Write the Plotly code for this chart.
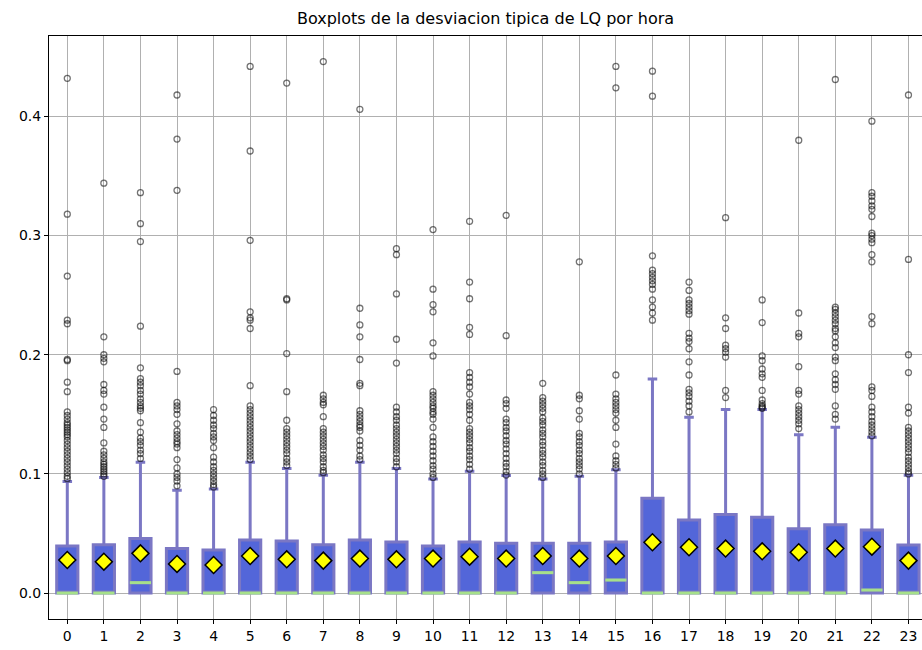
import plotly.graph_objects as go

hours = list(range(24))
tick_labels = [str(h) for h in hours]

q1 = [0.0] * 24
medians = [0.0, 0.0, 0.0087, 0.0, 0.0, 0.0, 0.0, 0.0, 0.0, 0.0, 0.0, 0.0,
           0.0, 0.0171, 0.0087, 0.0109, 0.0, 0.0, 0.0, 0.0, 0.0, 0.0, 0.0025, 0.0]
q3 = [0.0395, 0.0406, 0.0457, 0.0373, 0.0361, 0.0445, 0.0437, 0.0406,
      0.0445, 0.0429, 0.0395, 0.0429, 0.0417, 0.0417, 0.0417, 0.0429,
      0.0796, 0.0613, 0.0658, 0.0636, 0.0540, 0.0574, 0.0529, 0.0403]
upper_whisker = [0.0935, 0.0969, 0.1098, 0.0863, 0.0874, 0.1098, 0.1045, 0.0989,
                 0.1098, 0.1045, 0.0958, 0.1022, 0.0986, 0.0958, 0.0980, 0.1034,
                 0.1796, 0.1476, 0.1540, 0.1540, 0.1328, 0.1392, 0.1308, 0.0989]
means = [0.0277, 0.0263, 0.0333, 0.0244, 0.0235, 0.0311, 0.0283, 0.0272,
         0.0289, 0.0283, 0.0289, 0.0305, 0.0289, 0.0311, 0.0289, 0.0311,
         0.0426, 0.0384, 0.0373, 0.0350, 0.0342, 0.0373, 0.0389, 0.0272]

outliers = [
    [0.432, 0.318, 0.266, 0.229, 0.226, 0.196, 0.195, 0.177, 0.169, 0.152, 0.149, 0.146, 0.143, 0.141,
     0.139, 0.137, 0.135, 0.133, 0.131, 0.128, 0.125, 0.122, 0.119, 0.116, 0.113, 0.110, 0.107,
     0.104, 0.101, 0.098, 0.096],
    [0.344, 0.215, 0.200, 0.197, 0.194, 0.175, 0.170, 0.167, 0.156, 0.146, 0.139, 0.126, 0.119,
     0.116, 0.113, 0.110, 0.108, 0.106, 0.104, 0.102, 0.100, 0.098],
    [0.336, 0.310, 0.295, 0.224, 0.189, 0.180, 0.177, 0.174, 0.170, 0.167, 0.163, 0.160, 0.157,
     0.155, 0.153, 0.143, 0.135, 0.130, 0.127, 0.124, 0.120, 0.117, 0.113],
    [0.418, 0.381, 0.338, 0.186, 0.160, 0.157, 0.154, 0.150, 0.142, 0.136, 0.133, 0.130, 0.127,
     0.125, 0.122, 0.112, 0.105, 0.100, 0.097, 0.094, 0.090],
    [0.154, 0.149, 0.145, 0.141, 0.138, 0.134, 0.131, 0.128, 0.122, 0.114, 0.110, 0.106, 0.103,
     0.100, 0.097, 0.094, 0.091, 0.089],
    [0.442, 0.371, 0.296, 0.236, 0.231, 0.229, 0.222, 0.174, 0.157, 0.154, 0.151, 0.148, 0.145,
     0.142, 0.139, 0.136, 0.133, 0.130, 0.127, 0.124, 0.121, 0.118, 0.115, 0.112],
    [0.428, 0.247, 0.246, 0.201, 0.169, 0.145, 0.138, 0.135, 0.132, 0.129, 0.126, 0.123, 0.120,
     0.117, 0.113, 0.110, 0.107],
    [0.446, 0.166, 0.163, 0.160, 0.158, 0.148, 0.138, 0.135, 0.132, 0.129, 0.126, 0.123, 0.120,
     0.116, 0.113, 0.110, 0.106, 0.103, 0.101],
    [0.406, 0.239, 0.225, 0.215, 0.196, 0.176, 0.174, 0.153, 0.150, 0.147, 0.144, 0.141, 0.139,
     0.136, 0.128, 0.124, 0.120, 0.115, 0.112],
    [0.289, 0.284, 0.251, 0.213, 0.193, 0.156, 0.152, 0.148, 0.145, 0.141, 0.138, 0.135, 0.132,
     0.129, 0.126, 0.123, 0.120, 0.117, 0.113, 0.110, 0.106],
    [0.305, 0.255, 0.242, 0.236, 0.210, 0.199, 0.169, 0.166, 0.163, 0.160, 0.157, 0.155, 0.152,
     0.150, 0.146, 0.139, 0.131, 0.127, 0.123, 0.119, 0.115, 0.111, 0.107, 0.104, 0.100, 0.097],
    [0.312, 0.261, 0.247, 0.223, 0.217, 0.185, 0.181, 0.177, 0.173, 0.167, 0.160, 0.157, 0.154,
     0.150, 0.145, 0.138, 0.135, 0.132, 0.129, 0.126, 0.122, 0.119, 0.115, 0.112, 0.108, 0.104],
    [0.317, 0.216, 0.162, 0.159, 0.155, 0.146, 0.143, 0.139, 0.136, 0.132, 0.128, 0.125, 0.121,
     0.117, 0.113, 0.109, 0.106, 0.102, 0.099],
    [0.176, 0.164, 0.161, 0.158, 0.155, 0.152, 0.147, 0.144, 0.141, 0.137, 0.134, 0.131, 0.127,
     0.124, 0.120, 0.117, 0.114, 0.110, 0.107, 0.103, 0.100, 0.097],
    [0.278, 0.166, 0.163, 0.153, 0.146, 0.134, 0.131, 0.127, 0.124, 0.120, 0.117, 0.113, 0.110,
     0.107, 0.104, 0.100],
    [0.442, 0.424, 0.183, 0.167, 0.163, 0.160, 0.157, 0.154, 0.151, 0.145, 0.139, 0.125, 0.115,
     0.111, 0.108, 0.105],
    [0.438, 0.417, 0.283, 0.271, 0.268, 0.265, 0.262, 0.259, 0.255, 0.246, 0.240, 0.235, 0.229],
    [0.261, 0.254, 0.246, 0.243, 0.240, 0.237, 0.234, 0.218, 0.214, 0.211, 0.205, 0.194, 0.183,
     0.171, 0.168, 0.165, 0.161, 0.157, 0.152],
    [0.315, 0.231, 0.222, 0.208, 0.205, 0.202, 0.198, 0.170, 0.164],
    [0.246, 0.227, 0.199, 0.195, 0.188, 0.184, 0.181, 0.170, 0.162, 0.159, 0.157, 0.156, 0.155],
    [0.380, 0.235, 0.218, 0.215, 0.190, 0.170, 0.167, 0.157, 0.154, 0.151, 0.148, 0.145, 0.142,
     0.138],
    [0.431, 0.240, 0.238, 0.235, 0.232, 0.229, 0.226, 0.222, 0.220, 0.215, 0.210, 0.206, 0.198,
     0.195, 0.184, 0.179, 0.175, 0.171, 0.157, 0.150, 0.146],
    [0.396, 0.336, 0.333, 0.329, 0.325, 0.322, 0.316, 0.302, 0.300, 0.297, 0.294, 0.284, 0.278,
     0.232, 0.226, 0.173, 0.170, 0.165, 0.156, 0.152, 0.148, 0.144, 0.141, 0.138, 0.135, 0.132],
    [0.418, 0.280, 0.200, 0.185, 0.156, 0.151, 0.139, 0.136, 0.133, 0.130, 0.127, 0.124, 0.121,
     0.118, 0.114, 0.111, 0.108, 0.105, 0.102, 0.100],
]

BOX_W = 0.58
FILL = "#5366d9"
EDGE = "#7b77c4"
FONT = "DejaVu Sans"

fig = go.Figure()

fig.add_trace(go.Box(
    x=hours, q1=q1, median=medians, q3=q3,
    lowerfence=q1, upperfence=upper_whisker,
    width=BOX_W, whiskerwidth=0.45,
    fillcolor=FILL, line=dict(color=EDGE, width=3),
    boxpoints=False, showlegend=False, hoverinfo="skip",
))

# median lines
mx, my = [], []
for h, m in zip(hours, medians):
    mx += [h - BOX_W / 2, h + BOX_W / 2, None]
    my += [m, m, None]
fig.add_trace(go.Scatter(x=mx, y=my, mode="lines",
                         line=dict(color="#a6e08a", width=3),
                         showlegend=False, hoverinfo="skip"))

# outliers
ox, oy = [], []
for h, vals in zip(hours, outliers):
    ox += [h] * len(vals)
    oy += vals
fig.add_trace(go.Scatter(x=ox, y=oy, mode="markers",
                         marker=dict(symbol="circle", size=6,
                                     color="rgba(0,0,0,0)",
                                     line=dict(color="rgba(0,0,0,0.55)", width=1.3)),
                         showlegend=False, hoverinfo="skip"))

# means
fig.add_trace(go.Scatter(x=hours, y=means, mode="markers",
                         marker=dict(symbol="diamond", size=13, color="#ffff00",
                                     line=dict(color="black", width=1.5)),
                         showlegend=False, hoverinfo="skip"))

fig.update_layout(
    width=922, height=650,
    margin=dict(l=49, r=0, t=36, b=31),
    paper_bgcolor="white", plot_bgcolor="white",
    font=dict(family=FONT, size=14, color="black"),
    title=dict(text="Boxplots de la desviacion tipica de LQ por hora",
               x=0.5, xanchor="center", y=1 - 18 / 650, yanchor="middle",
               yref="container", xref="paper",
               font=dict(family=FONT, size=16, color="black")),
)
fig.update_xaxes(
    range=[-0.5, 23.37], tickmode="array", tickvals=hours, ticktext=tick_labels,
    showgrid=True, gridcolor="#b0b0b0", gridwidth=1,
    showline=True, linecolor="black", linewidth=1, mirror=True,
    ticks="outside", ticklen=4, tickcolor="black", zeroline=False,
)
fig.update_yaxes(
    range=[-0.0218, 0.4675], tickmode="array", tickvals=[0.0, 0.1, 0.2, 0.3, 0.4],
    ticktext=["0.0", "0.1", "0.2", "0.3", "0.4"],
    showgrid=True, gridcolor="#b0b0b0", gridwidth=1,
    showline=True, linecolor="black", linewidth=1, mirror=False,
    ticks="outside", ticklen=4, tickcolor="black", zeroline=False,
)

fig.write_html("out.html")
